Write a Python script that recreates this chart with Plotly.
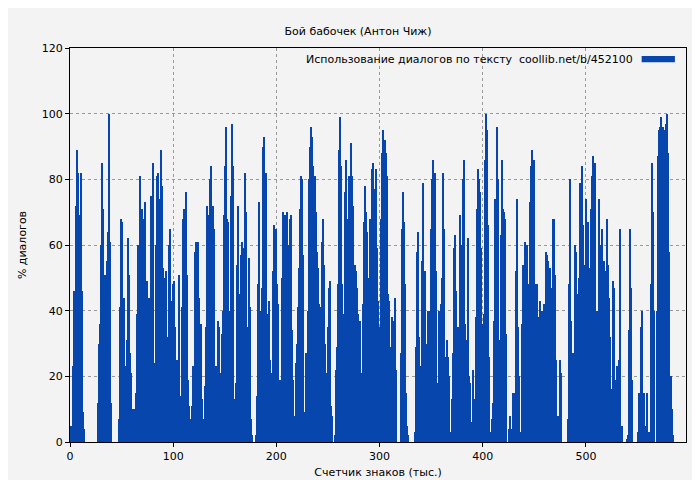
import plotly.graph_objects as go

seg1 = [5,5,23,46,35,72,89,82,69,82,46,9,4,
        0,0,0,0,0,0,0,0,0,0,0,
        12,30,36,60,85,71,26,51,55,64,100,61,12,
        0,0,0,0,0,0,
        7,41,68,67,44,23,3,31,62,51,27,21,10,10,7,15,39,60,44,81,71,40,68,73,37,49,40,44,75,40,
        85,18,24,60,81,82,74,89,78,53,50,11,52,32,60,65,43,15,48,49,35,25,19,51,1,14,41,68,71,76,
        51,19,11,7,3,11,23,58,61,53,61,44,29,36,13,7,17,35,72,69,35,80,84,72,65,23,0,
        23,37,35,21,33,40,69,84,82,68]
seg2 = [34,21,78,96,67,20,40,75,97,84,13,0,18,54,72,45,57,61,35,59,82,70,35,28,56,41,7,2,0,0,
        2,14,48,73,40,20,47,90,93,68,82,39,43,25,21,20,52,66,64,65,48,42,4,19,50,70,47,69,52,70,
        38,60,68,69,34,19,8,24,30,41,53,71,81,80,57,9,6,27,40,80,90,96,93,84,65,81,70,58,53,42,
        41,61,68,54,30,15,21,35,47,49,11,8,0,2,22,29,48,89,99,84,48,17,39,76,86,68,81,75,91,81,
        72,40,54,52,47,39,29,37,21,42,67,78,70,64,34,50,68,65,83,85,77,83,59,43,13,35,62,88]
seg3 = [6,13,35,68,88,95,92,88,81,45,43,29,28,38,37,36,44,22,0,0,0,27,65,76,67,48,15,5,2,
        0,0,0,0,0,3,29,58,64,32,23,55,79,36,52,16,30,40,12,40,65,80,86,82,52,18,6,40,21,42,50,
        82,65,26,31,26,20,0,3,13,27,59,63,46,31,35,69,35,60,80,86,36,8,31,62,20,18,6,22,13,10,
        38,71,83,80,76,59,36,39,86,100,95,66,26,0,3,7,12,37,74,96,80,31,20,63,86,71,70,68,33,0,
        4,8,4,0,15,15,15,52,74,35,20,3,36,54,38,61,48,60,40,48,73,84,89,86,48,10,48]
seg4 = [77,48,11,44,31,38,18,43,20,40,35,42,58,57,55,50,53,47,68,68,51,25,7,8,25,21,0,0,0,0,0,
        7,48,80,37,14,27,60,58,45,25,50,79,84,66,27,54,74,35,67,53,71,81,87,45,85,40,37,74,20,60,
        65,55,49,52,68,54,44,32,16,49,47,19,3,23,25,65,2,5,0,0,0,1,2,34,65,47,19,0,0,0,0,
        3,15,35,40,15,15,5,2,15,3,2,48,85,70,40,0,40,87,95,96,99,96,95,90,97,100,88,58,20,10,2]

# (values, first unit, last unit) in thousands of characters
segments = [(seg1, 0, 153), (seg2, 148, 303), (seg3, 298, 453), (seg4, 447, 585)]

xs, ys, ws = [], [], []
for vals, a, b in segments:
    step = (b - a) / len(vals)
    for i, v in enumerate(vals):
        xs.append(a + (i + 0.5) * step)
        ys.append(v)
        ws.append(step)

fig = go.Figure(go.Bar(x=xs, y=ys, width=ws, marker=dict(color="#0646ad", line=dict(width=0))))
font = dict(family="DejaVu Sans", size=11, color="#000")
ax = dict(showline=True, linecolor="#000", linewidth=1, mirror=True, ticks="outside",
          ticklen=4, tickcolor="#000", showgrid=True, gridcolor="#999", griddash="dot",
          zeroline=False, tickfont=font, automargin=False)
fig.update_layout(
    width=700, height=480, paper_bgcolor="#f3f3f3", plot_bgcolor="#f3f3f3",
    margin=dict(l=62, r=22, t=40, b=46, autoexpand=False), bargap=0, showlegend=False, font=font,
    title=dict(text="Бой бабочек (Антон Чиж)", x=0.5, xanchor="center", y=0.96, font=font),
    xaxis=dict(ax, range=[0, 597], dtick=100, title=dict(text="Счетчик знаков (тыс.)", font=font, standoff=6)),
    yaxis=dict(ax, range=[0, 120], dtick=20, title=dict(text="% диалогов", font=font, standoff=12)),
)
fig.add_annotation(xref="paper", yref="paper", x=0.918, y=0.972, xanchor="right", yanchor="middle",
                   text="Использование диалогов по тексту  coollib.net/b/452100", showarrow=False, font=font)
fig.add_shape(type="rect", xref="paper", yref="paper", x0=0.928, x1=0.982, y0=0.964, y1=0.98,
              fillcolor="#0646ad", line=dict(width=0))
fig.write_html("out.html")
